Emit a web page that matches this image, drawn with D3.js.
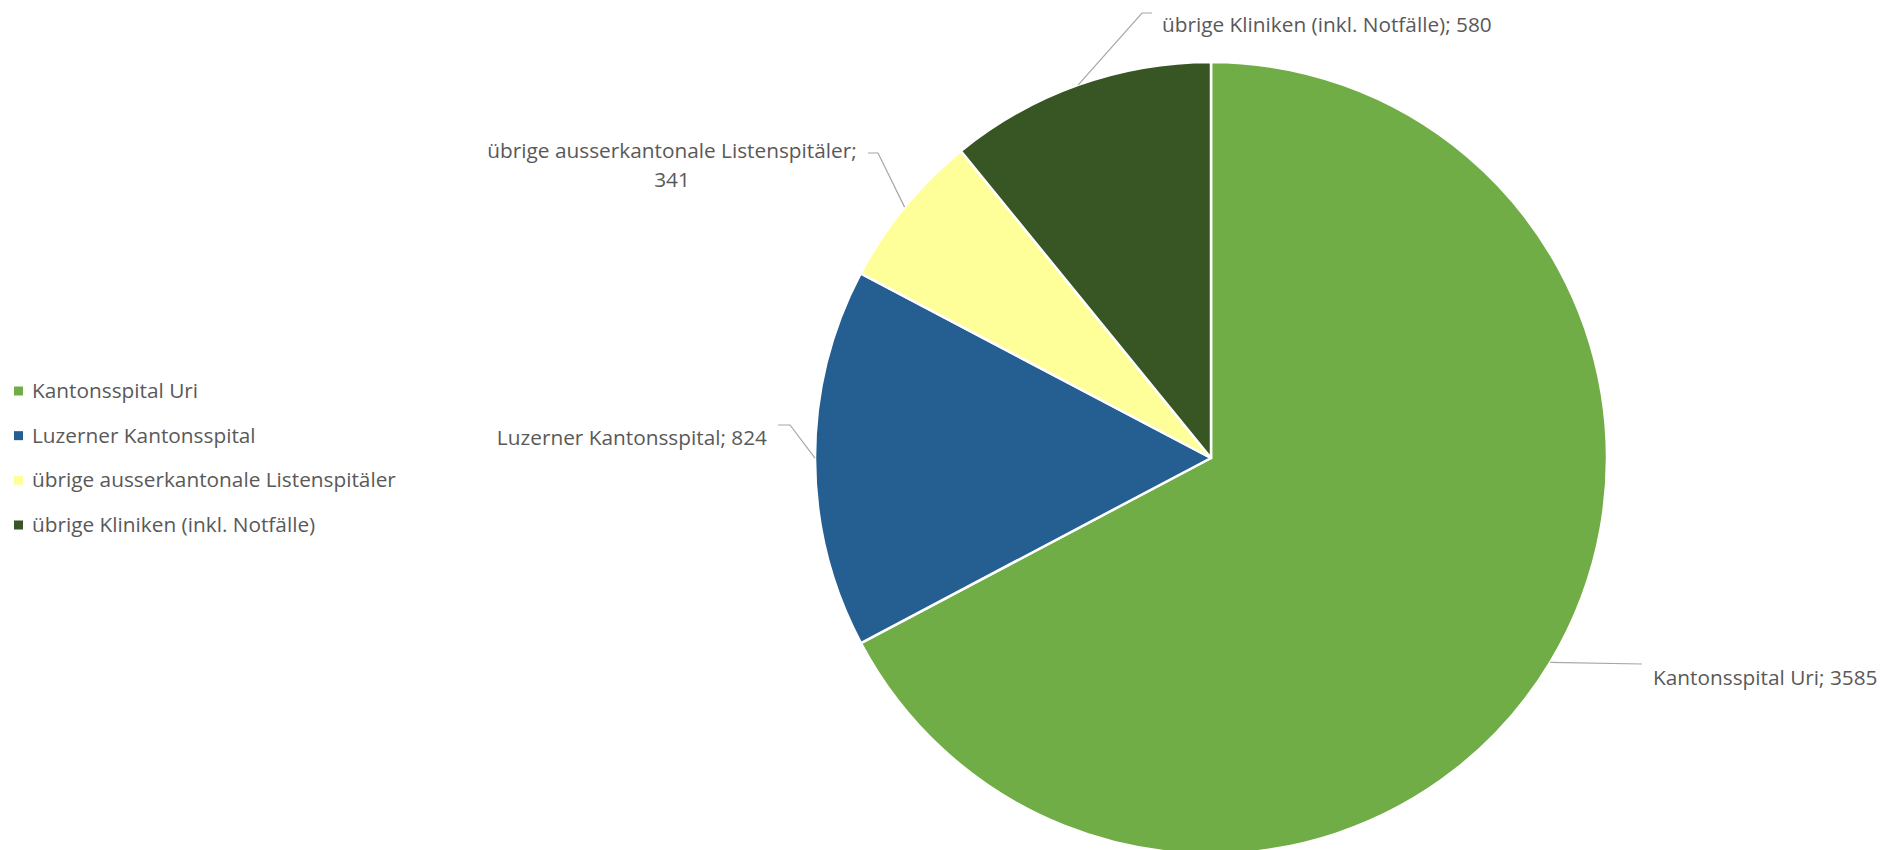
<!DOCTYPE html>
<html>
<head>
<meta charset="utf-8">
<script src="https://cdn.jsdelivr.net/npm/d3@7"></script>
<style>
  html, body { margin: 0; padding: 0; background: #fff; }
  svg { display: block; }
  text { font-family: "Open Sans", Lato, sans-serif; fill: #595959; }
</style>
</head>
<body>
<svg id="chart" width="1882" height="850"></svg>
<script>
// chart data
var categories = [
  'Kantonsspital Uri',
  'Luzerner Kantonsspital',
  'übrige ausserkantonale Listenspitäler',
  'übrige Kliniken (inkl. Notfälle)'
];
var values = [3585, 824, 341, 580];
var colors = ['#70AD47', '#255E91', '#FFFF99', '#375623'];

var cx = 1211, cy = 458, radius = 396;
var fontSize = 20.8;

var svg = d3.select('#chart');

var slices = categories.map(function(c, i) {
  return { name: c, value: values[i], color: colors[i] };
});

var pie = d3.pie()
  .sort(null)
  .value(function(d) { return d.value; });

var arc = d3.arc().innerRadius(0).outerRadius(radius);
var edgeArc = d3.arc().innerRadius(radius).outerRadius(radius);

var arcs = pie(slices);

var g = svg.append('g').attr('transform', 'translate(' + cx + ',' + cy + ')');

g.selectAll('path.slice')
  .data(arcs)
  .enter().append('path')
  .attr('class', 'slice')
  .attr('d', arc)
  .attr('fill', function(d) { return d.data.color; })
  .attr('stroke', '#fff')
  .attr('stroke-width', 2.5)
  .attr('stroke-linejoin', 'round');

// label placement (absolute page coords), one per slice
var labelLayout = [
  { x: 1653, y: 685, anchor: 'start', lines: null, leader: [[1642, 664]] },
  { x: 767, y: 445, anchor: 'end', lines: null, leader: [[790, 425], [778, 425]] },
  { x: 672, y: 158, anchor: 'middle', lines: 2, leader: [[878, 153], [868, 153]] },
  { x: 1162, y: 32, anchor: 'start', lines: null, leader: [[1142, 13], [1152, 13]] }
];

var labels = svg.append('g').attr('class', 'labels');

arcs.forEach(function(a, i) {
  var lay = labelLayout[i];
  var c = edgeArc.centroid(a);
  var pts = [[cx + c[0], cy + c[1]]].concat(lay.leader);
  labels.append('path')
    .attr('d', d3.line()(pts))
    .attr('fill', 'none')
    .attr('stroke', '#A6A6A6')
    .attr('stroke-width', 1.2);

  var t = labels.append('text')
    .attr('x', lay.x)
    .attr('y', lay.y)
    .attr('text-anchor', lay.anchor)
    .style('font-size', fontSize + 'px');
  if (lay.lines === 2) {
    t.append('tspan').attr('x', lay.x).text(a.data.name + ';');
    t.append('tspan').attr('x', lay.x).attr('dy', 29).text(a.data.value);
  } else {
    t.text(a.data.name + '; ' + a.data.value);
  }
});

// legend
var legend = svg.append('g').attr('transform', 'translate(14,0)');
var legendY = d3.scalePoint()
  .domain(categories)
  .range([391, 525]);

var items = legend.selectAll('g.item')
  .data(slices)
  .enter().append('g')
  .attr('class', 'item')
  .attr('transform', function(d) { return 'translate(0,' + legendY(d.name) + ')'; });

items.append('rect')
  .attr('x', 0)
  .attr('y', -4.5)
  .attr('width', 9)
  .attr('height', 9)
  .attr('fill', function(d) { return d.color; });

items.append('text')
  .attr('x', 18)
  .attr('y', 7)
  .style('font-size', fontSize + 'px')
  .text(function(d) { return d.name; });
</script>
</body>
</html>
